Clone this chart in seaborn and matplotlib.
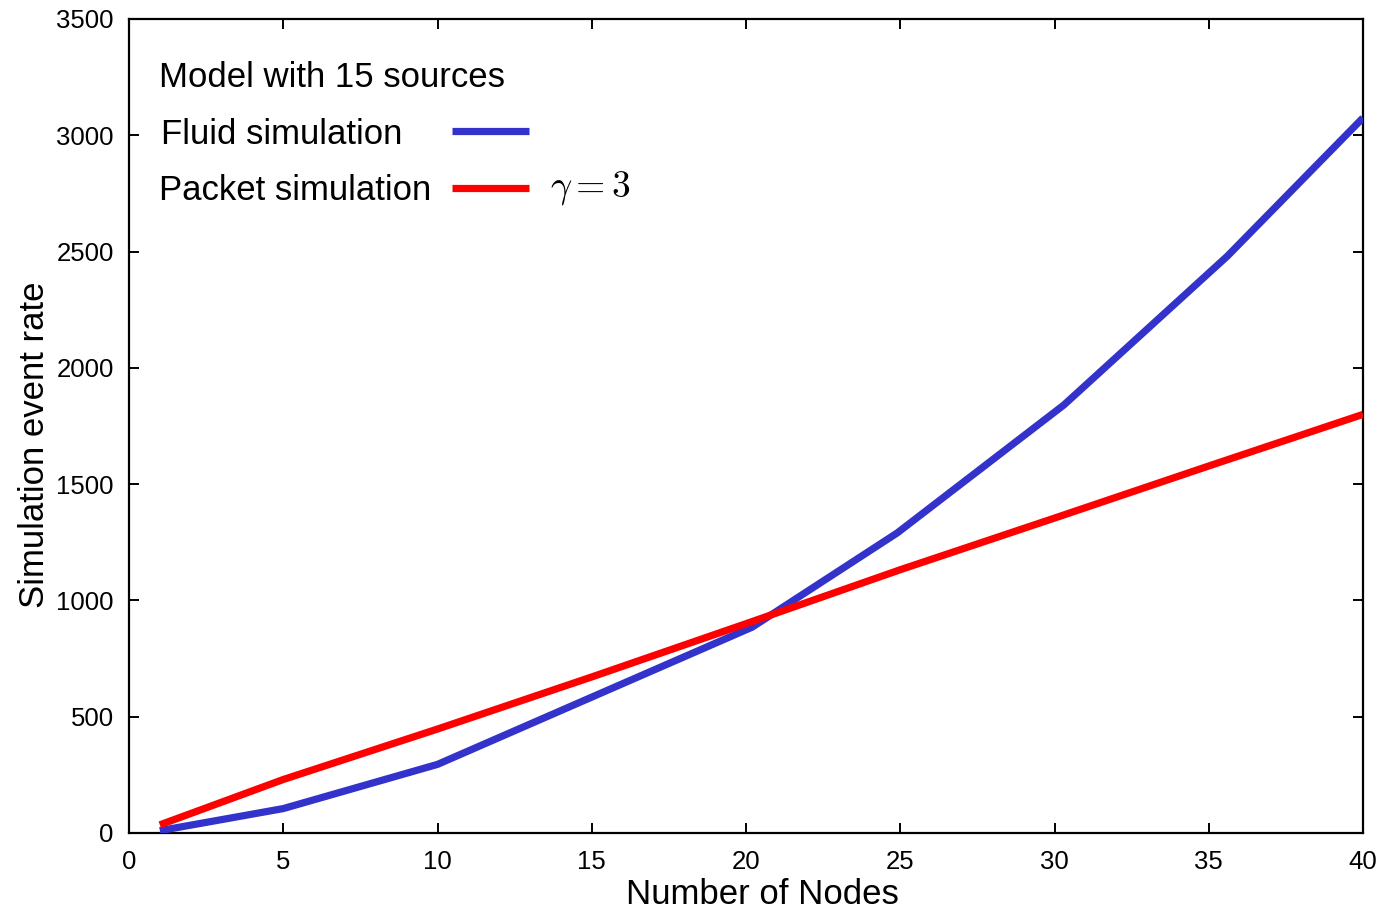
import matplotlib
matplotlib.use("Agg")
import matplotlib.pyplot as plt
import seaborn as sns
import pandas as pd

# ---- data ----
fluid_nodes = [1, 5, 10, 20.2, 24.9, 30.3, 35.6, 40]
fluid_rate = [10, 105, 295, 885, 1290, 1840, 2480, 3075]

packet_nodes = [1, 5, 10, 15, 20, 25, 30, 35, 40]
packet_rate = [35, 230, 447, 671, 900, 1132, 1354, 1578, 1800]

x_ticks = [0, 5, 10, 15, 20, 25, 30, 35, 40]
y_ticks = [0, 500, 1000, 1500, 2000, 2500, 3000, 3500]

legend_title = "Model with 15 sources"
fluid_label = "Fluid simulation"
packet_label = "Packet simulation"
gamma_note = r"$\gamma = 3$"
x_label = "Number of Nodes"
y_label = "Simulation event rate"

BLUE = "#3333cc"
RED = "#ff0000"

sns.set_theme(style="ticks")
plt.rcParams["font.family"] = ["Liberation Sans", "DejaVu Sans"]
plt.rcParams["mathtext.fontset"] = "cm"
plt.rcParams["text.color"] = "black"
plt.rcParams["axes.labelcolor"] = "black"

fig = plt.figure(figsize=(13.83, 9.11), dpi=100)
ax = fig.add_axes([129 / 1383, 1 - 833 / 911, 1234 / 1383, 814 / 911])

df_f = pd.DataFrame({"nodes": fluid_nodes, "rate": fluid_rate})
df_p = pd.DataFrame({"nodes": packet_nodes, "rate": packet_rate})

# pad the shorter label so both texts start at the same left edge
fluid_label_padded = fluid_label + "\u00a0" * 3

sns.lineplot(data=df_f, x="nodes", y="rate", ax=ax, color=BLUE, lw=5.2,
             label=fluid_label_padded, solid_capstyle="butt", zorder=3)
sns.lineplot(data=df_p, x="nodes", y="rate", ax=ax, color=RED, lw=5.2,
             label=packet_label, solid_capstyle="butt", zorder=4)

ax.set_xlim(0, 40)
ax.set_ylim(0, 3500)
ax.set_xticks(x_ticks)
ax.set_yticks(y_ticks)
ax.set_xticklabels([str(t) for t in x_ticks])
ax.set_yticklabels([str(t) for t in y_ticks])

ax.tick_params(axis="both", which="major", direction="in", length=7.5, width=1.4,
               top=True, right=True, labelsize=18.5, colors="black")
ax.tick_params(axis="x", pad=12)
ax.tick_params(axis="y", pad=11)
for s in ax.spines.values():
    s.set_visible(True)
    s.set_linewidth(1.6)
    s.set_color("black")

ax.set_xlabel(x_label, fontsize=25, color="black")
ax.set_ylabel(y_label, fontsize=25, color="black")
ax.xaxis.set_label_coords(0.513, -0.055)
ax.yaxis.set_label_coords(-0.063, 0.477)

leg = ax.legend(title=legend_title, loc="upper left",
                bbox_to_anchor=(0.0245, 0.948), frameon=False,
                markerfirst=False, fontsize=25, title_fontsize=25,
                handlelength=2.2, handletextpad=0.6, labelspacing=0.67,
                borderpad=0, borderaxespad=0, alignment="left")
for line in leg.get_lines():
    line.set_linewidth(5.2)
for t in leg.get_texts():
    t.set_color("black")
leg.get_title().set_color("black")

ax.text(0.341, 0.792, gamma_note, transform=ax.transAxes, fontsize=27,
        va="center", ha="left", color="black")

fig.savefig("out.png", dpi=100, facecolor="white")
